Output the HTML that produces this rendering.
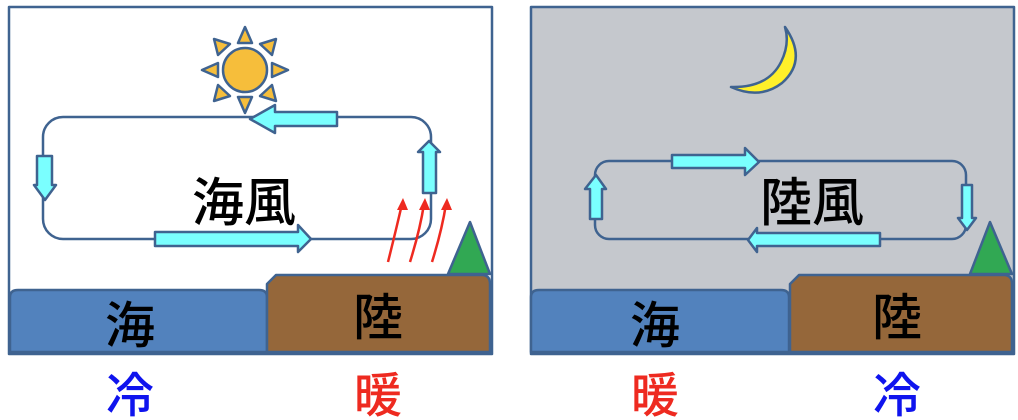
<!DOCTYPE html>
<html><head><meta charset="utf-8"><style>
html,body{margin:0;padding:0;background:#fff;}
svg{display:block;}
text{font-family:"Liberation Sans","Noto Sans CJK JP",sans-serif;text-anchor:middle;font-weight:500;}
</style></head><body>
<svg width="1018" height="420" viewBox="0 0 1018 420" xmlns="http://www.w3.org/2000/svg">
<g stroke="#3f6390" stroke-width="2.5" stroke-linejoin="round">
<rect x="9" y="7" width="483" height="347" fill="#fff"/>
<path d="M10 352 V297 Q10 290 18 290 H259 Q267 290 267 297 V352 Z" fill="#5282bd"/>
<path d="M267 352 V284 L276 275 H482 Q490 275 490 284 V352 Z" fill="#95673a"/>
<polygon points="470,222 448,274 490,274" fill="#31a853"/>
<rect x="43" y="117" width="388" height="122" rx="20" fill="none"/>
<g fill="#f6be3b">
<polygon points="245,27 238,43 252,43"/><polygon points="245,113 238,97 252,97"/>
<polygon points="202,70 218,63 218,77"/><polygon points="288,70 272,63 272,77"/>
<polygon points="214,39 218,55 230,44"/><polygon points="276,39 272,55 260,44"/>
<polygon points="214,101 218,85 230,96"/><polygon points="276,101 272,85 260,96"/>
<circle cx="245" cy="70" r="22"/>
</g>
<g fill="#7affff">
<polygon points="337,112 275,112 275,105 250,119 275,133 275,126 337,126"/>
<polygon points="37,156 52,156 52,185 56,185 45,200 34,185 37,185"/>
<polygon points="155,232 298,232 298,225 311,239 298,252 298,246 155,246"/>
<polygon points="423,193 436,193 436,152 440,152 429,141 418,152 423,152"/>
</g>
</g>
<g stroke="#ee2a20" stroke-width="2.5" fill="none">
<path d="M388 262 Q396 230 402 204"/><path d="M410 262 Q420 230 424 204"/><path d="M432 262 Q442 230 446 204"/>
</g>
<g fill="#ee2a20">
<polygon points="403,198 397,210 408,210"/><polygon points="425,198 419,210 430,210"/><polygon points="447,198 441,210 452,210"/>
</g>
<text x="244" y="221" font-size="52" fill="#000">海風</text>
<text x="130" y="343" font-size="50" fill="#000">海</text>
<text x="378" y="335" font-size="50" fill="#000">陸</text>
<text x="130" y="412" font-size="48" fill="#0f14ee">冷</text>
<text x="378" y="412" font-size="48" fill="#ee2a20">暖</text>

<g stroke="#3f6390" stroke-width="2.5" stroke-linejoin="round">
<rect x="531" y="7" width="483" height="347" fill="#c5c8cd"/>
<path d="M531 352 V297 Q531 290 539 290 H781 Q789 290 789 297 V352 Z" fill="#5282bd"/>
<path d="M790 352 V284 L799 275 H1004 Q1012 275 1012 284 V352 Z" fill="#95673a"/>
<polygon points="990,222 970,274 1012,274" fill="#31a853"/>
<rect x="595" y="161" width="371" height="78" rx="14" fill="none"/>
<path d="M785 27 Q808 60 782 83 Q760 100 731 87 Q768 88 781 62 Q790 44 785 27 Z" fill="#fff02a"/>
<g fill="#7affff">
<polygon points="672,155 745,155 745,148 759,162 745,175 745,168 672,168"/>
<polygon points="590,219 602,219 602,189 606,189 596,175 585,189 590,189"/>
<polygon points="962,185 972,185 972,218 976,218 967,230 958,218 962,218"/>
<polygon points="880,233 757,233 757,228 748,240 757,252 757,246 880,246"/>
</g>
</g>
<text x="812" y="221" font-size="52" fill="#000">陸風</text>
<text x="655" y="343" font-size="50" fill="#000">海</text>
<text x="897" y="335" font-size="50" fill="#000">陸</text>
<text x="655" y="412" font-size="48" fill="#ee2a20">暖</text>
<text x="897" y="412" font-size="48" fill="#0f14ee">冷</text>
</svg>
</body></html>
